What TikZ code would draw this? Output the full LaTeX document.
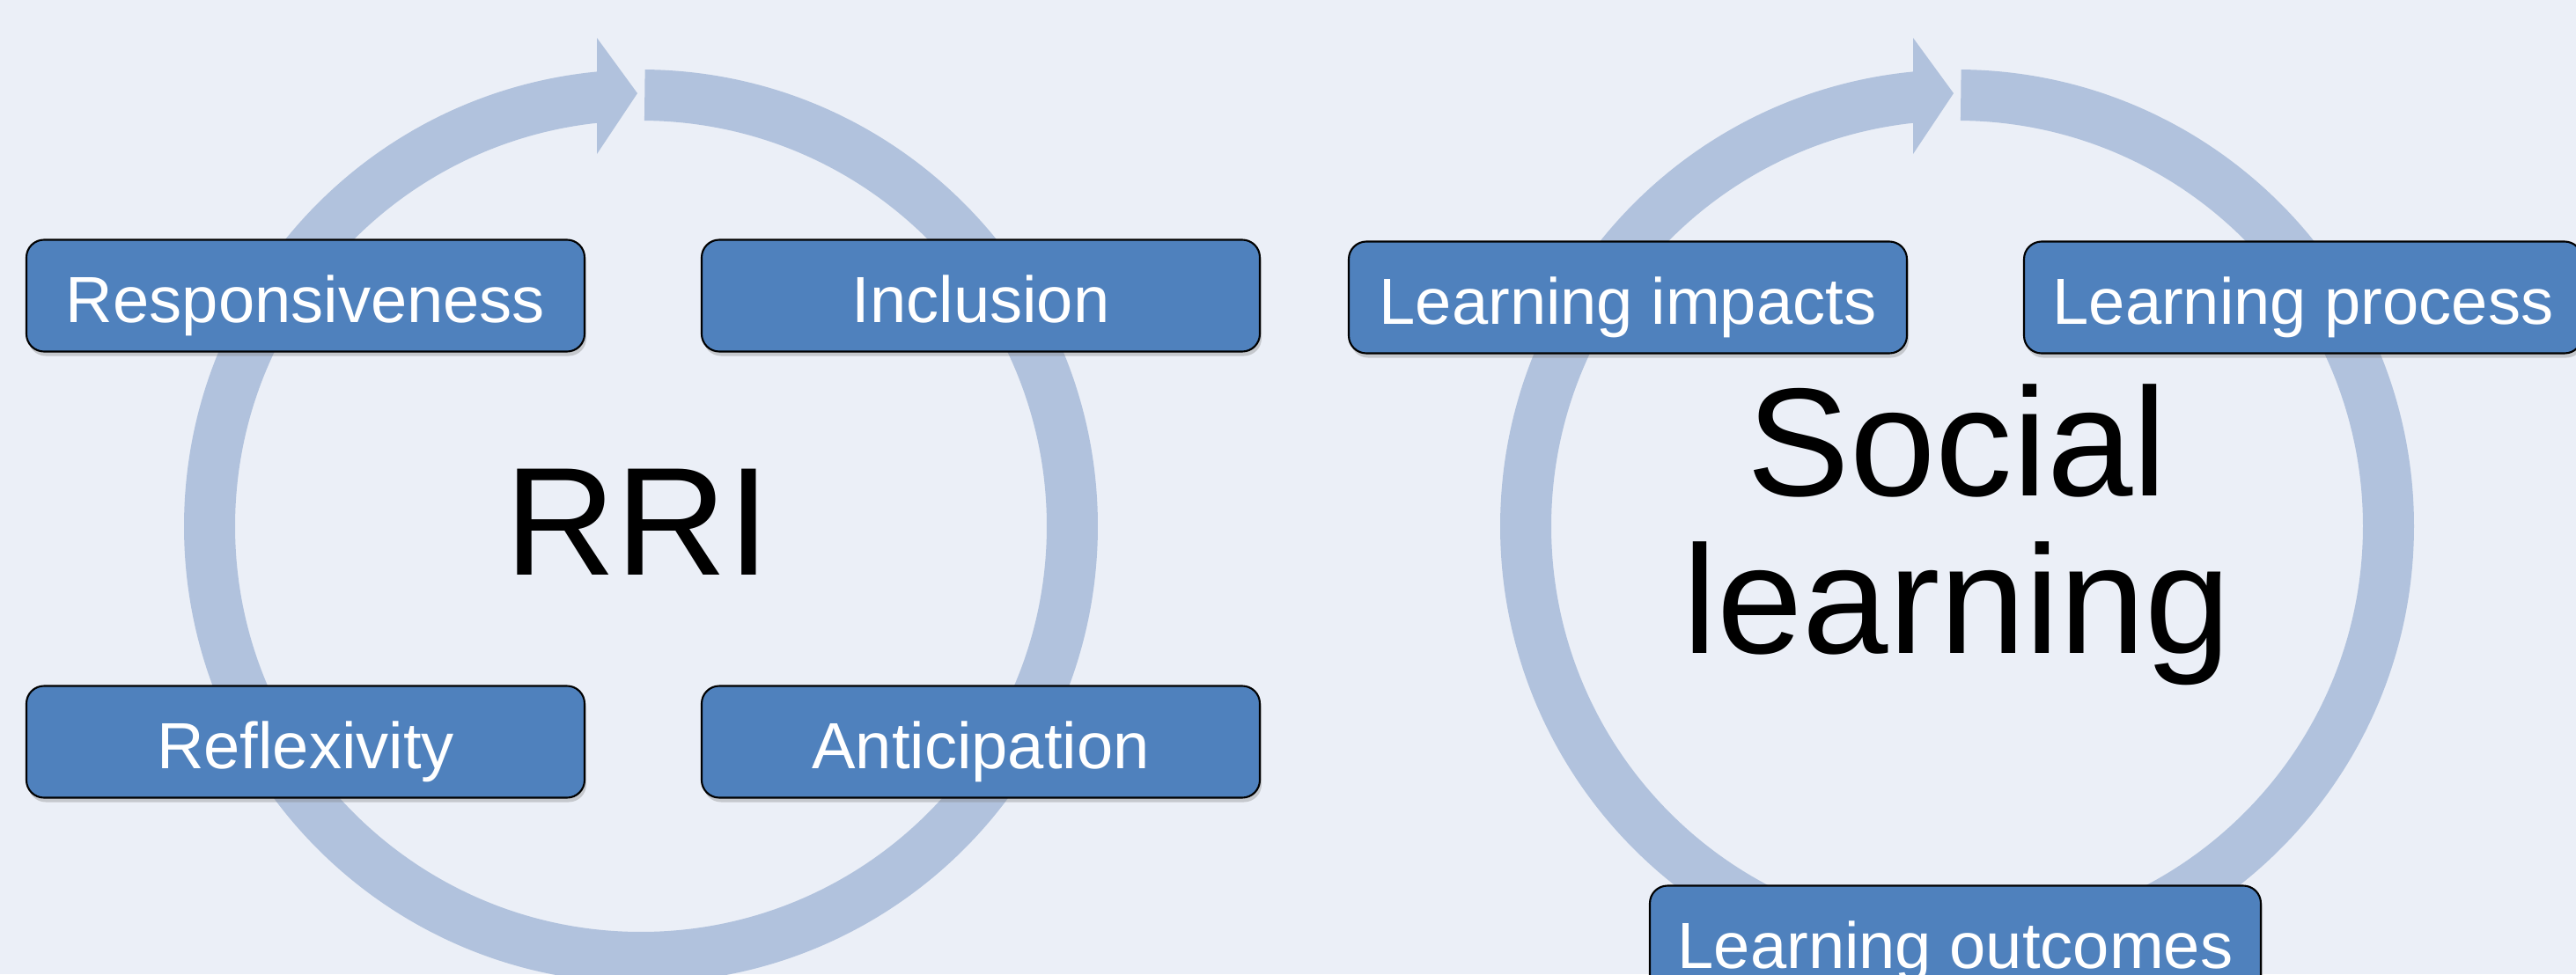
\documentclass[tikz,border=0pt]{standalone}
\usepackage{fontspec}
\setmainfont{Liberation Sans}
\usetikzlibrary{shadows,positioning}
\definecolor{paper}{HTML}{EBEFF7}
\definecolor{ringblue}{HTML}{B1C2DD}
\definecolor{boxblue}{HTML}{4F81BD}
\tikzset{
  box/.style={rectangle, rounded corners=0.2cm, draw=black, line width=0.6pt,
    fill=boxblue, text=white, minimum width=6.34cm, minimum height=1.27cm,
    inner sep=0pt, text height=0.6cm, text depth=0pt,
    font=\fontsize{21.1}{25}\selectfont,
    drop shadow={shadow xshift=0.02cm, shadow yshift=-0.05cm, opacity=0.35}},
  ring/.style={draw=ringblue, line width=0.58cm},
  bigtext/.style={font=\fontsize{49.8}{50.9}\selectfont, inner sep=0pt}
}

\begin{document}
\begin{tikzpicture}[node distance=7.67cm]
    \fill[paper] (0,0) rectangle (29.26,11.07);
    \useasboundingbox (0,0) rectangle (29.26,11.07);

    % RRI cycle
    \coordinate (rri) at (7.28,5.09);
    \draw[ring] (rri) ++(89.5:4.9) arc[start angle=89.5, end angle=-264.5, radius=4.9];
    \fill[ringblue, shift={(rri)}] (-0.50,5.55) -- (-0.04,4.92) -- (-0.50,4.23) -- cycle;
    \node (rrilabel) [bigtext, anchor=base] at (7.24,4.54) {RRI};

    \node (resp) [box] at (3.47,7.71) {Responsiveness};
    \node (incl) [box, right of=resp] {Inclusion};
    \node (refl) [box, below of=resp, node distance=5.07cm] {Reflexivity};
    \node (anti) [box, right of=refl] {Anticipation};

    % social learning cycle
    \coordinate (soc) at (22.23,5.09);
    \draw[ring] (soc) ++(89.5:4.9) arc[start angle=89.5, end angle=-264.5, radius=4.9];
    \fill[ringblue, shift={(soc)}] (-0.50,5.55) -- (-0.04,4.92) -- (-0.50,4.23) -- cycle;
    \node (soclabel) [bigtext, align=center, anchor=north] at (22.23,6.71) {Social\\learning};

    \node (impact) [box] at (18.49,7.69) {Learning impacts};
    \node (process) [box, right of=impact] {Learning process};
    \node (outcome) [box, minimum width=6.94cm] at (22.21,0.37) {Learning outcomes};
\end{tikzpicture}
\end{document}
